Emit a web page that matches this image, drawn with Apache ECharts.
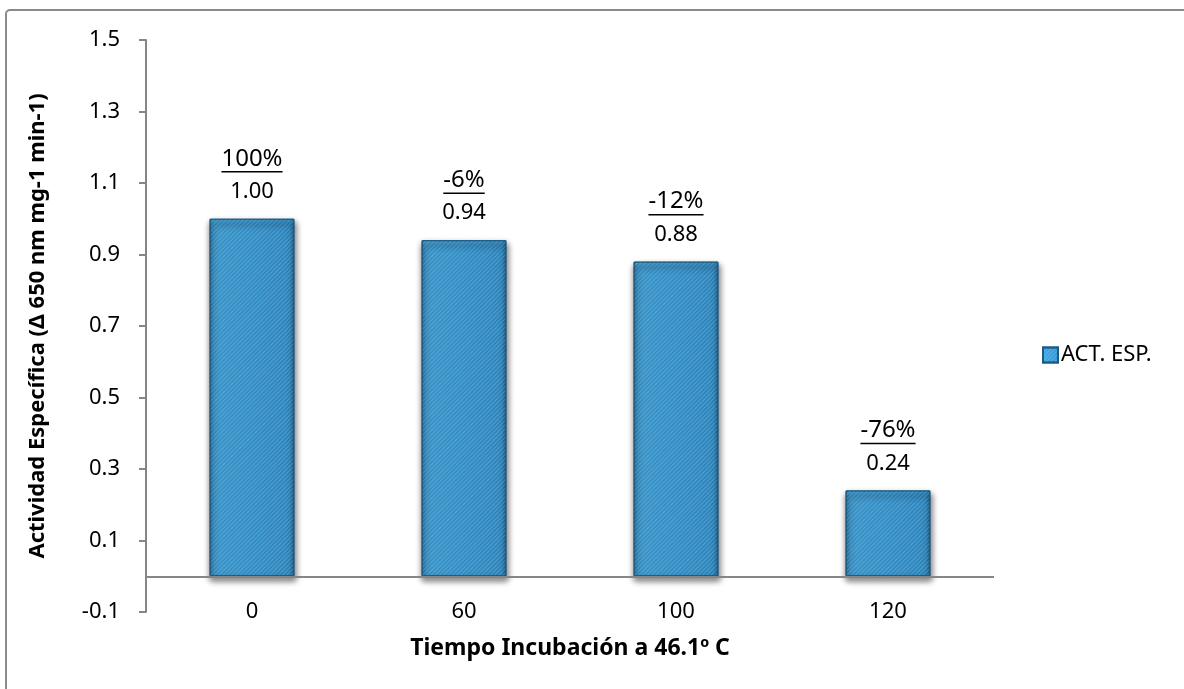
<!DOCTYPE html>
<html>
<head>
<meta charset="utf-8">
<script src="https://cdn.jsdelivr.net/npm/echarts@6/dist/echarts.min.js"></script>
<style>
  html, body { margin: 0; padding: 0; background: #fff; }
  #chart { width: 1184px; height: 689px; }
</style>
</head>
<body>
<div id="chart"></div>
<script>
// Incubation times (categories) and specific activity per time
const tiempos = ['0', '60', '100', '120'];
const actividad = [1.00, 0.94, 0.88, 0.24];
// Change relative to time 0, shown underlined above each bar
const cambio = ['100%', '-6%', '-12%', '-76%'];
const serieNombre = 'ACT. ESP.';

const FONT = '"Noto Sans", "Open Sans", sans-serif';
const txtColor = '#000';
const axisGray = '#868686';
const labelSize = 22;
const pctSize = 24;

// measure text width for the underline under the percentage labels
const measureCtx = document.createElement('canvas').getContext('2d');
function textWidth(str, size) {
  measureCtx.font = size + 'px "Noto Sans"';
  return measureCtx.measureText(str).width;
}

const chart = echarts.init(document.getElementById('chart'), null, { renderer: 'canvas' });

const barFill = new echarts.graphic.LinearGradient(0, 0, 1, 0, [
  { offset: 0, color: '#2a80b8' },
  { offset: 0.05, color: '#41a6e0' },
  { offset: 0.5, color: '#3aa0dd' },
  { offset: 0.95, color: '#3395d2' },
  { offset: 1, color: '#1f6a9c' }
]);

const option = {
  animation: false,
  backgroundColor: '#fff',
  textStyle: { fontFamily: FONT, color: txtColor },
  grid: { left: 146, right: 190, top: 40, bottom: 77, containLabel: false },
  legend: {
    data: [serieNombre],
    left: 1037, top: 339,
    orient: 'vertical',
    itemWidth: 15, itemHeight: 15, itemGap: 6,
    icon: 'rect',
    textStyle: { fontFamily: FONT, fontSize: labelSize, color: txtColor, padding: [0, 0, 0, -2] }
  },
  xAxis: {
    type: 'category',
    data: tiempos,
    name: 'Tiempo Incubación a 46.1º C',
    nameLocation: 'middle',
    nameGap: 25,
    nameTextStyle: { fontFamily: FONT, fontWeight: 'bold', fontSize: 23, color: txtColor },
    axisLine: { show: false, onZero: false },
    axisTick: { show: false },
    axisLabel: { margin: 0, verticalAlign: 'middle', fontFamily: FONT, fontSize: labelSize, color: txtColor }
  },
  yAxis: {
    type: 'value',
    min: -0.1, max: 1.5, interval: 0.2,
    name: 'Actividad Específica (Δ 650 nm mg-1 min-1)',
    nameLocation: 'middle',
    nameGap: 97,
    nameTextStyle: { fontFamily: FONT, fontWeight: 'bold', fontSize: 22, color: txtColor },
    axisLine: { show: true, lineStyle: { color: axisGray, width: 2 } },
    axisTick: { show: true, length: 7, lineStyle: { color: axisGray, width: 2 } },
    splitLine: { show: false },
    axisLabel: {
      margin: 26, fontFamily: FONT, fontSize: labelSize, color: txtColor,
      formatter: v => v.toFixed(1)
    }
  },
  series: [
    {
      name: serieNombre,
      type: 'bar',
      data: actividad,
      barWidth: '40%',
      itemStyle: {
        color: barFill,
        borderColor: '#1d5a85',
        borderWidth: 1,
        shadowColor: 'rgba(0,0,0,0.35)',
        shadowBlur: 6,
        shadowOffsetX: 1,
        shadowOffsetY: 4,
        decal: {
          symbol: 'rect',
          symbolSize: 1,
          dashArrayX: [[1, 0]],
          dashArrayY: [1, 2],
          rotation: -Math.PI / 4,
          color: 'rgba(150,210,245,0.35)'
        }
      },
      label: {
        show: true,
        position: 'top',
        distance: 16,
        fontFamily: FONT,
        fontSize: labelSize,
        color: txtColor,
        formatter: p => p.value.toFixed(2)
      },
      markLine: {
        silent: true,
        symbol: 'none',
        label: { show: false },
        lineStyle: { color: axisGray, width: 2, type: 'solid' },
        data: [{ yAxis: 0 }]
      },
      z: 2
    },
    {
      // underlined change labels above the value labels
      name: 'cambio',
      type: 'custom',
      data: actividad.map((v, i) => [i, v]),
      silent: true,
      z: 3,
      renderItem: function (params, api) {
        const i = api.value(0);
        const top = api.coord([i, api.value(1)]);
        const label = cambio[i];
        const cy = top[1] - 60;
        const w = textWidth(label, pctSize);
        return {
          type: 'group',
          children: [
            {
              type: 'text',
              style: {
                text: label, x: top[0], y: cy,
                align: 'center', verticalAlign: 'middle',
                font: pctSize + 'px ' + FONT, fill: txtColor
              }
            },
            {
              type: 'line',
              shape: { x1: top[0] - w / 2, y1: cy + 13, x2: top[0] + w / 2, y2: cy + 13 },
              style: { stroke: txtColor, lineWidth: 1.5 }
            }
          ]
        };
      }
    }
  ],
  graphic: [
    {
      type: 'rect',
      shape: { x: 6, y: 10, width: 1240, height: 760, r: 4 },
      style: { fill: 'none', stroke: '#8a8a8a', lineWidth: 2 },
      silent: true,
      z: 10
    }
  ]
};

chart.setOption(option);
</script>
</body>
</html>
